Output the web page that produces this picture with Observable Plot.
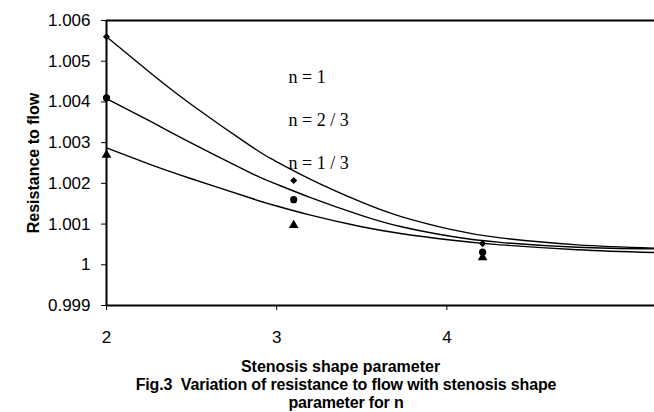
<!DOCTYPE html>
<html>
<head>
<meta charset="utf-8">
<script src="https://cdn.jsdelivr.net/npm/d3@7"></script>
<script src="https://cdn.jsdelivr.net/npm/@observablehq/plot@0.6"></script>
<style>
  html, body { margin: 0; padding: 0; background: #fff; }
  #wrap { width: 654px; height: 378px; }
  .cap { font-family: "Liberation Sans", Arial, sans-serif; font-weight: bold; font-size: 16px; text-align: center; width: 654px; padding-left: 38px; box-sizing: border-box; line-height: 18px; letter-spacing: -0.15px; white-space: nowrap; }
  #cap1 { margin-top: -2px; }
</style>
</head>
<body>
<div id="wrap"></div>
<div class="cap" id="cap1">Fig.3&nbsp; Variation of resistance to flow with stenosis shape</div>
<div class="cap" id="cap2">parameter for n</div>
<script>
// curve sample positions (stenosis shape parameter)
const curveX = [2, 2.259, 2.494, 2.846, 2.987, 3.199, 3.492, 3.727, 4.021, 4.315, 4.768, 5.22];
// fitted curves for n = 1, 2/3, 1/3
const curveN1  = [1.0056, 1.00471, 1.00395, 1.00292, 1.00256, 1.0021, 1.00155, 1.00119, 1.00087, 1.00066, 1.00049, 1.00041];
const curveN23 = [1.00408, 1.00352, 1.0030, 1.00226, 1.002, 1.00165, 1.00122, 1.00094, 1.0007, 1.00055, 1.00043, 1.00039];
const curveN13 = [1.00287, 1.00246, 1.00212, 1.00164, 1.00146, 1.00122, 1.00094, 1.00077, 1.00061, 1.00049, 1.00037, 1.0003];
// computed points (as placed in the figure)
const pointX = [2, 3.1, 4.21];
const pointN1  = [1.0056, 1.00207, 1.00052];
const pointN23 = [1.0041, 1.0016, 1.00031];
const pointN13 = [1.0027, 1.00097, 1.00018];
// labels
const seriesLabels = ["n = 1", "n = 2 / 3", "n = 1 / 3"];
const labelX = [3.07, 3.07, 3.07];
const labelY = [1.00461, 1.00355, 1.0025];
const xTicks = [2, 3, 4];
const yTicks = [0.999, 1, 1.001, 1.002, 1.003, 1.004, 1.005, 1.006];
const yTickLabels = ["0.999", "1", "1.001", "1.002", "1.003", "1.004", "1.005", "1.006"];
const xTitle = "Stenosis shape parameter";
const yTitle = "Resistance to flow";

const curves = [curveN1, curveN23, curveN13];
const lineData = curves.flatMap((c, i) => c.map((v, j) => ({x: curveX[j], y: v, s: i})));
const pts = [pointN1, pointN23, pointN13];
const symbols = ["diamond2", "circle", "triangle"];
const sizes = [3.2, 3.6, 3.6];
const ptData = pts.flatMap((p, i) => p.map((v, j) => ({x: pointX[j], y: v, s: i})));
const labData = seriesLabels.map((t, i) => ({t, x: labelX[i], y: labelY[i]}));

const chart = Plot.plot({
  width: 654,
  height: 378,
  marginLeft: 106,
  marginRight: 0,
  marginTop: 20,
  marginBottom: 73,
  style: {fontFamily: "'Liberation Sans', Arial, sans-serif", fontSize: "17px", color: "#000", background: "#fff"},
  x: {domain: [2, 5.22], ticks: xTicks},
  y: {domain: [0.999, 1.006], ticks: yTicks},
  marks: [
    Plot.line(lineData, {x: "x", y: "y", z: "s", stroke: "#000", strokeWidth: 1.4, curve: "natural"}),
    ...pts.map((p, i) => Plot.dot(ptData.filter(d => d.s === i), {x: "x", y: "y", symbol: () => symbols[i], r: sizes[i], fill: "#000", stroke: "none"})),
    Plot.text(labData, {x: "x", y: "y", text: "t", textAnchor: "start", fontFamily: "'Liberation Serif', 'Times New Roman', serif", fontSize: 18, fill: "#000"}),
    Plot.ruleY([1.006], {stroke: "#000", strokeWidth: 2}),
    Plot.ruleY([0.999], {stroke: "#000", strokeWidth: 2}),
    Plot.ruleX([2], {stroke: "#000", strokeWidth: 2}),
    Plot.axisY({ticks: yTicks, tickFormat: d => yTickLabels[yTicks.indexOf(d)], tickSize: 5, tickPadding: 11, label: null, fontSize: 17}),
    Plot.axisX({ticks: xTicks, tickFormat: d => String(d), tickSize: 5, tickPadding: 20, label: null, fontSize: 17}),
    Plot.text([xTitle], {frameAnchor: "bottom", textAnchor: "middle", lineAnchor: "middle", dx: -40, dy: 61, fontWeight: "bold", fontSize: 16, fill: "#000"}),
    Plot.text([yTitle], {frameAnchor: "left", textAnchor: "middle", lineAnchor: "middle", rotate: -90, dx: -73, fontWeight: "bold", fontSize: 16, fill: "#000"})
  ]
});
document.getElementById("wrap").appendChild(chart);
</script>
</body>
</html>
